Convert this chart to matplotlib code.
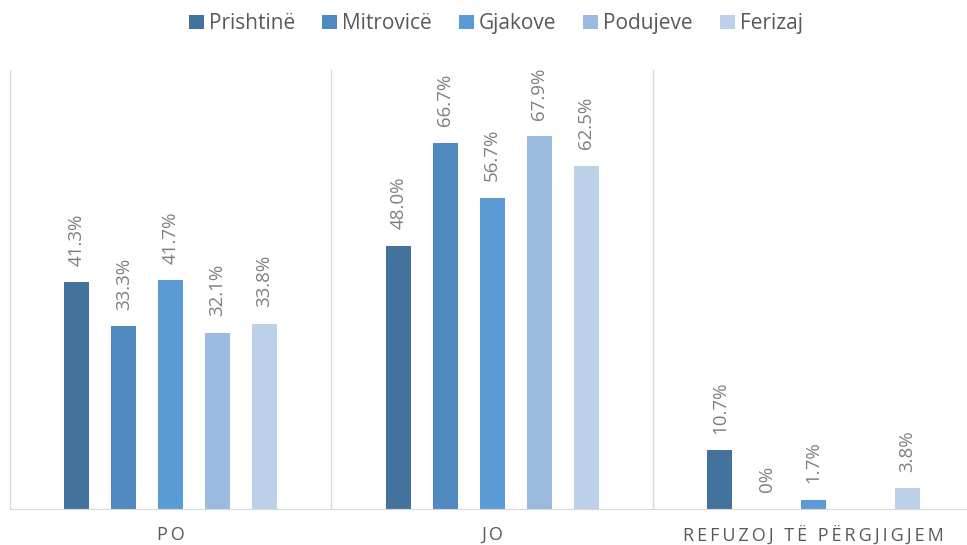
import numpy as np
import matplotlib.pyplot as plt

plt.rcParams['font.family'] = ['Open Sans', 'DejaVu Sans']

# Survey answers by city (percent)
categories = ['PO', 'JO', 'REFUZOJ TË PËRGJIGJEM']
cities = ['Prishtinë', 'Mitrovicë', 'Gjakove', 'Podujeve', 'Ferizaj']
prishtine = [41.3, 48.0, 10.7]
mitrovice = [33.3, 66.7, 0.0]
gjakove = [41.7, 56.7, 1.7]
podujeve = [32.1, 67.9, None]
ferizaj = [33.8, 62.5, 3.8]

series = [prishtine, mitrovice, gjakove, podujeve, ferizaj]
colors = ['#43729D', '#4F89BF', '#5B9BD5', '#9BBAE0', '#BDD0EA']

fig = plt.figure(figsize=(9.67, 5.45), dpi=100)
ax = fig.add_axes([0.0103, 0.066, 0.9974, 0.8055])

x = np.arange(len(categories))
step = 0.146
width = 0.078
for i, (vals, name, col) in enumerate(zip(series, cities, colors)):
    off = (i - 2) * step
    xs = [xi + off for xi, v in zip(x, vals) if v is not None]
    vs = [v for v in vals if v is not None]
    ax.bar(xs, vs, width, color=col, label=name)
    for xx, v in zip(xs, vs):
        txt = '0%' if v == 0 else f'{v:.1f}%'
        ax.annotate(txt, (xx, v), xytext=(0, 12), textcoords='offset points',
                    rotation=90, ha='center', va='bottom', fontsize=13.5,
                    color='#7F7F7F')

ax.set_xlim(-0.5, 2.5)
ax.set_ylim(0, 80)
ax.set_yticks([])
for s in ['top', 'right', 'left']:
    ax.spines[s].set_visible(False)
ax.spines['bottom'].set_color('#D9D9D9')

# group separators
for b in [-0.5, 0.5, 1.5]:
    ax.axvline(b, color='#D9D9D9', lw=1)

spaced = ['\u2009'.join(c) for c in categories]
ax.set_xticks(x)
ax.set_xticklabels(spaced, fontsize=13, color='#595959')
ax.tick_params(axis='x', length=0, pad=12)

fig.legend(loc='upper center', bbox_to_anchor=(0.513, 1.01), ncol=5, frameon=False,
           fontsize=15, handlelength=0.7, handleheight=0.7, handletextpad=0.25,
           columnspacing=1.3, labelcolor='#595959')

fig.savefig('out.png', dpi=100)
